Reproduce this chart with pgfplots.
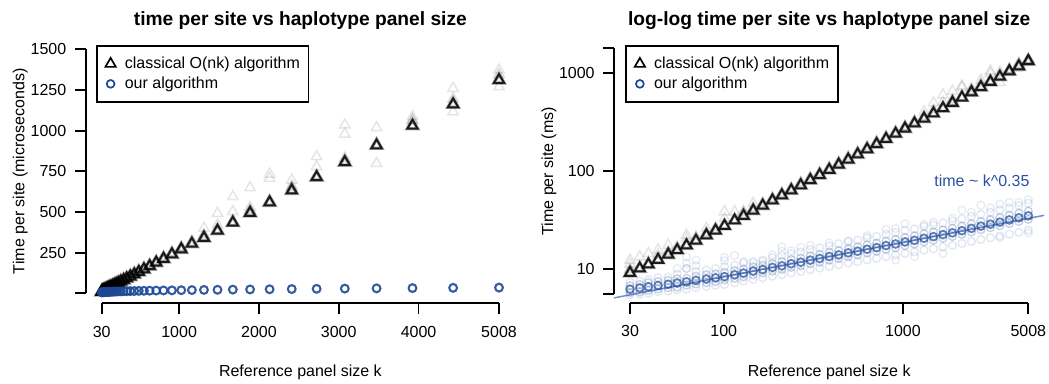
\documentclass[border=0pt]{standalone}
\usepackage{fontspec}
\setmainfont{Liberation Sans}
\usepackage{pgfplots}
\usepackage{pgfplotstable}
\pgfplotsset{compat=1.18}
\definecolor{ourblue}{RGB}{30,72,150}
\definecolor{fitblue}{RGB}{85,125,195}
\definecolor{txtblue}{RGB}{40,82,160}

\pgfplotstableread{
k main
30 9.2
34 10.2
38 11.2
43 12.5
49 14.1
55 15.7
62 17.5
70 19.6
80 22.2
90 24.8
101 27.7
115 31.4
129 35.0
146 39.5
165 44.5
187 50.2
211 56.5
238 63.5
269 71.6
304 80.8
343 91.0
388 102.8
438 115.8
495 130.7
559 147.5
631 166.3
713 187.8
805 211.8
910 239.3
1027 269.9
1160 304.6
1311 341.0
1481 385.0
1673 435.0
1889 494.0
2134 559.3
2411 632.0
2723 714.0
3076 806.0
3474 910.0
3924 1030.0
4433 1162.0
5008 1311.0
}\classical

\pgfplotstableread{
k m a b c d
30 6.27 6.8 5.8 7.4 5.5
34 6.46 7.0 5.9 7.6 5.6
38 6.65 7.3 6.1 7.8 5.7
43 6.84 7.5 6.3 8.2 5.9
49 7.04 7.7 6.5 8.3 6.0
55 7.25 8.0 6.6 8.9 6.2
62 7.46 8.1 6.9 10.2 6.3
70 7.71 8.5 7.1 9.5 6.5
80 7.97 8.8 7.3 9.8 6.7
90 8.19 9.0 7.5 10.2 6.9
101 8.42 9.3 7.8 10.6 7.0
115 8.80 9.7 8.1 11.0 7.3
129 9.15 10.0 8.4 11.6 7.6
146 9.60 10.6 8.8 12.0 7.9
165 9.95 11.0 9.2 12.4 8.2
187 10.45 11.5 9.6 13.1 8.5
211 10.85 12.0 10.0 13.8 8.8
238 11.40 12.6 10.5 14.4 9.2
269 11.82 13.0 10.9 15.0 9.5
304 12.40 13.7 11.4 15.8 9.9
343 12.88 14.2 11.8 16.5 10.3
388 13.50 14.9 12.4 17.3 10.7
438 14.02 15.5 12.9 18.2 11.1
495 14.70 16.2 13.5 19.0 11.6
559 15.28 16.9 14.0 19.8 12.0
631 16.00 17.7 14.7 20.9 12.5
713 16.62 18.4 15.3 21.6 12.9
805 17.45 19.3 16.0 22.8 13.5
910 18.10 20.1 16.6 23.7 14.0
1027 19.00 21.0 17.4 24.9 14.5
1160 19.72 21.9 18.1 25.8 15.0
1311 20.70 23.0 19.0 27.3 15.7
1481 21.50 23.9 19.8 28.2 16.2
1673 22.55 25.1 20.7 29.6 16.9
1889 23.50 26.1 21.6 31.0 17.5
2134 24.70 27.5 22.7 32.6 18.3
2411 26.10 29.0 24.0 34.6 19.2
2723 27.50 30.6 25.3 36.3 20.1
3076 28.80 32.0 26.5 38.0 20.9
3474 30.20 33.6 27.8 40.0 21.8
3924 31.80 35.4 29.2 42.0 22.8
4433 33.40 37.2 30.7 44.5 23.8
5008 35.00 39.0 32.2 47.0 25.0
}\ours

\pgfplotsset{
  mylegimg/.style={legend image code/.code={\draw[mark repeat=2,mark phase=2,##1] plot coordinates {(0pt,0pt)(0pt,0pt)(0pt,0pt)};}},
  tri/.style={only marks, mark=triangle, mark size=6pt},
  circ/.style={only marks, mark=o, mark size=3.9pt},
  rstyle/.style={
    scale only axis, clip=false,
    axis x line=bottom, axis y line=left,
    axis line style={draw=none},
    tick align=outside, major tick length=11pt,
    xminorticks=false, yminorticks=false,
    tick style={black, line width=1.8pt},
    tick label style={font=\fontsize{16}{19.2}\selectfont},
    xticklabel style={yshift=-6pt},
    yticklabel style={xshift=-3pt},
    legend cell align=left,
    legend style={draw=black, line width=1.8pt, fill=white,
      inner xsep=8.5pt, inner ysep=11pt, column sep=9pt, row sep=6pt,
      font=\fontsize{16}{19.2}\selectfont, nodes={inner sep=0pt}, anchor=north west},
  }
}

\begin{document}
\fontsize{16}{19.2}\selectfont
\begin{tikzpicture}[x=1pt,y=1pt]
\useasboundingbox (0,0) rectangle (1049,383);

% ---------------- left panel ----------------
\begin{axis}[rstyle, at={(85.8pt,79.7pt)}, anchor=south west,
  width=429.1pt, height=264.3pt,
  xmin=-169.2, xmax=5207.2, ymin=-61.5, ymax=1563.3,
  xtick={30,1000,2000,3000,4000,5008}, xticklabels={30,1000,2000,3000,4000,5008},
  ytick={0,250,500,750,1000,1250,1500}, yticklabels={,250,500,750,1000,1250,1500},
  legend style={at={(0.0238,0.9773)}}]
\addplot[tri, draw=black, line width=1.5pt, opacity=0.1, forget plot] coordinates {
(30,12.4)(34,13.4)(38,14.5)(43,15.7)(49,17.6)(55,17.0)(62,22.3)(70,21.5)(80,26.1)(90,26.5)(101,38.5)(115,38.5)(129,37.5)(146,46.9)(165,47)(187,53)(238,67)(304,86)(388,109)(495,139)(631,176)(805,225)(1027,285)(1311,400)(1481,492)(1673,594)(1889,649)(2134,733)(2411,696)(2723,840)(3076,1035)(3474,1018)(3924,1086)(4433,1260)(5008,1373)};
\addplot[tri, draw=black, line width=1.5pt, opacity=0.1, forget plot] coordinates {
(30,11.3)(43,14.0)(62,20.5)(101,33)(129,39)(211,60)(343,97)(559,156)(910,252)(1160,322)(1481,420)(1673,502)(1889,530)(2134,707)(2411,660)(2723,778)(3076,979)(3474,799)(3924,1060)(4433,1116)(5008,1270)};
\addplot[tri, draw=black, line width=1.5pt, opacity=0.14, forget plot] coordinates {
(30,10)(49,15)(80,23.5)(146,42)(269,76)(438,123)(713,198)(1027,280)(1311,360)(1889,512)(2411,650)(3076,830)(3924,1065)(4433,1195)(5008,1345)};
\addplot[circ, draw=ourblue, line width=1.6pt, opacity=0.2, forget plot] table[x=k,y=a]{\ours};
\addplot[circ, draw=ourblue, line width=1.6pt, opacity=0.2, forget plot] table[x=k,y=b]{\ours};
\addplot[tri, draw=black, line width=3.4pt, opacity=0.3, forget plot] table[x=k,y=main]{\classical};
\addplot[tri, draw=black, line width=2pt, opacity=0.85, mylegimg, legend image post style={opacity=1, line width=1.7pt}] table[x=k,y=main]{\classical};
\addlegendentry{classical O(nk) algorithm}
\addplot[circ, draw=ourblue, line width=2pt, opacity=0.85, mylegimg, legend image post style={opacity=1, line width=1.7pt}] table[x=k,y=m]{\ours};
\addlegendentry{our algorithm}
\draw[line width=1.8pt] (axis cs:30,-61.5) -- (axis cs:5008,-61.5);
\draw[line width=1.8pt] (axis cs:-169.2,0) -- (axis cs:-169.2,1500);
\end{axis}

% ---------------- right panel ----------------
\begin{axis}[rstyle, xmode=log, ymode=log, at={(614.1pt,79.7pt)}, anchor=south west,
  width=430.1pt, height=264.3pt,
  xmin=24.45, xmax=6143, ymin=4.51, ymax=2202,
  xtick={30,100,1000,5008}, xticklabels={30,100,1000,5008},
  ytick={5.61,10,100,1000,1771}, yticklabels={,10,100,1000,},
  legend style={at={(0.026,0.9773)}}]
\addplot[tri, draw=black, line width=1.5pt, opacity=0.1, forget plot] coordinates {
(30,12.4)(34,13.4)(38,14.5)(43,15.7)(49,17.6)(55,17.0)(62,22.3)(70,21.5)(80,26.1)(90,26.5)(101,38.5)(115,38.5)(129,37.5)(146,46.9)(165,47)(187,53)(238,67)(304,86)(388,109)(495,139)(631,176)(805,225)(1027,285)(1311,400)(1481,492)(1673,594)(1889,649)(2134,733)(2411,696)(2723,840)(3076,1035)(3474,1018)(3924,1086)(4433,1260)(5008,1373)};
\addplot[tri, draw=black, line width=1.5pt, opacity=0.1, forget plot] coordinates {
(30,11.3)(43,14.0)(62,20.5)(101,33)(129,39)(211,60)(343,97)(559,156)(910,252)(1160,322)(1481,420)(1673,502)(1889,530)(2134,707)(2411,660)(2723,778)(3076,979)(3474,799)(3924,1060)(4433,1116)(5008,1270)};
\addplot[tri, draw=black, line width=1.5pt, opacity=0.14, forget plot] coordinates {
(30,10)(49,15)(80,23.5)(146,42)(269,76)(438,123)(713,198)(1027,280)(1311,360)(1889,512)(2411,650)(3076,830)(3924,1065)(4433,1195)(5008,1345)};
\addplot[circ, draw=ourblue, line width=1.4pt, opacity=0.1, forget plot] coordinates {
(55,10.2)(62,13.4)(62,11.5)(62,10.2)(70,12.4)(70,10.9)(101,13.2)(101,12.2)(115,13.8)(129,12.0)(146,11.5)(165,12.0)(187,14.0)(211,17.0)(211,15.3)(238,15.5)(269,16.8)(304,17.5)(388,18.5)(495,19.5)(631,22)(805,25.5)(910,12.4)(910,26)(1027,29)(1160,13.5)(1311,28.5)(1481,30)(1673,14.5)(1889,33)(2134,40)(2411,38)(2723,45)(3076,42)(3474,46)(3924,48)(4433,48)(5008,51)(5008,23.5)(3474,21)};
\addplot[circ, draw=ourblue, line width=1.4pt, opacity=0.13, forget plot] table[x=k,y=c]{\ours};
\addplot[circ, draw=ourblue, line width=1.4pt, opacity=0.13, forget plot] table[x=k,y=d]{\ours};
\addplot[circ, draw=ourblue, line width=1.4pt, opacity=0.25, forget plot] table[x=k,y=a]{\ours};
\addplot[circ, draw=ourblue, line width=1.4pt, opacity=0.25, forget plot] table[x=k,y=b]{\ours};
\addplot[fitblue, line width=1.5pt, opacity=0.85, forget plot] coordinates {(24.45,5.12) (6143,35.4)};
\addplot[tri, draw=black, line width=3.4pt, opacity=0.25, forget plot] table[x=k,y=main]{\classical};
\addplot[tri, draw=black, line width=2pt, opacity=0.85, mylegimg, legend image post style={opacity=1, line width=1.7pt}] table[x=k,y=main]{\classical};
\addlegendentry{classical O(nk) algorithm}
\addplot[circ, draw=ourblue, line width=1.8pt, opacity=0.7, mylegimg, legend image post style={opacity=1, line width=1.7pt}] table[x=k,y=m]{\ours};
\addlegendentry{our algorithm}
\draw[line width=1.8pt] (axis cs:30,4.51) -- (axis cs:5008,4.51);
\draw[line width=1.8pt] (axis cs:24.45,5.61) -- (axis cs:24.45,1771);
\end{axis}

% titles and labels
\node[anchor=base, font=\bfseries\fontsize{19.2}{23}\selectfont] at (300.4,357) {time per site vs haplotype panel size};
\node[anchor=base, font=\bfseries\fontsize{19.2}{23}\selectfont] at (829.2,357) {log-log time per site vs haplotype panel size};
\node[anchor=base] at (300.4,6.5) {Reference panel size k};
\node[anchor=base] at (829.2,6.5) {Reference panel size k};
\node[anchor=base, rotate=90] at (24.3,211.8) {Time per site (microseconds)};
\node[anchor=base, rotate=90] at (553.2,211.8) {Time per site (ms)};
\node[anchor=base east, text=txtblue] at (1035,196.3) {time \textasciitilde{} k\textasciicircum 0.35};
\end{tikzpicture}
\end{document}
